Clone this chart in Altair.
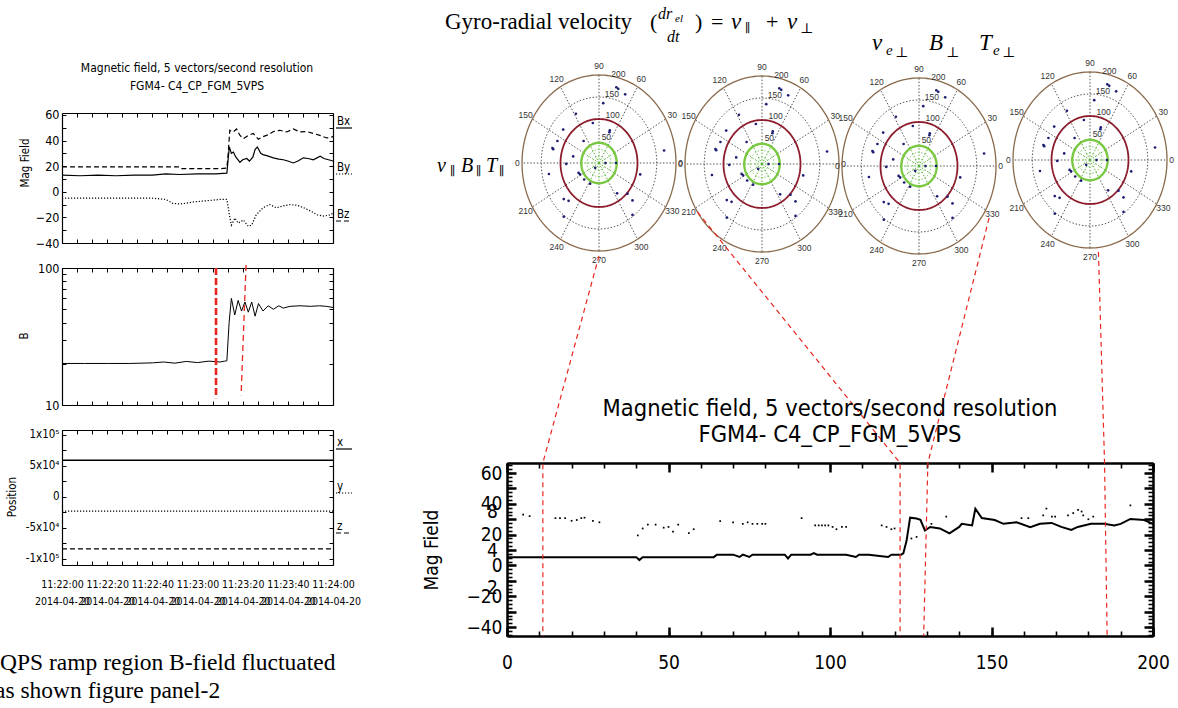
import altair as alt
import numpy as np
import pandas as pd

W, H = 1178, 708
NARROW = "'Liberation Sans Narrow', 'DejaVu Sans Condensed', 'DejaVu Sans', sans-serif"
SERIF = "'Liberation Serif', 'DejaVu Serif', serif"
ARIAL = "'Liberation Sans', Arial, sans-serif"
RED = "#e8261e"

# ---------------- data ----------------
# Left panel 1: field components (nT), seconds after 11:22:00 UT
bx_t = [0, 20, 40, 52, 53, 60, 70, 73, 73.6, 74.3, 75.8, 77.3, 78.8, 80.3, 82.5, 84.7, 87, 89,
        91.3, 93.6, 96.5, 99.5, 102.4, 105.4, 108.4, 111.3, 114.2, 117.2, 120]
bx_v = [19.5, 19.5, 19.5, 19.5, 18, 18, 18, 18.5, 30, 48, 46.7, 49, 44, 41.5, 44, 45.5, 41, 43,
        44.5, 47, 48, 46.7, 49, 46.7, 47, 45.5, 44, 42, 43]
by_t = [0, 8, 16, 24, 32, 40, 46, 52, 60, 68, 73, 73.6, 74.1, 75, 75.9, 77, 78.8, 80, 81.8, 83,
        84.5, 85.5, 86.5, 88, 89, 91, 93.6, 96, 98, 100, 102.4, 104.5, 106.9, 109, 111.3, 114.3,
        116, 118, 120]
by_v = [13, 12.5, 13, 12.5, 13, 13, 14, 13.5, 14, 14, 14.5, 26, 35, 30, 31, 27, 23, 25, 26, 24,
        27, 33, 35, 30, 29, 28, 26.5, 25.5, 25, 24, 22.5, 24, 26.5, 26, 25, 27.7, 26, 25, 24]
bz_t = [0, 20, 40, 46, 49, 52, 55, 58, 64, 70, 73, 73.6, 74.1, 75, 76.6, 78, 80.3, 82.5, 84, 86,
        89, 92, 95, 98, 101, 104, 107, 110, 113, 116, 119, 120]
bz_v = [-5, -5, -5, -6, -9, -9.5, -9, -8, -7, -6, -6, -12, -18, -26, -20.5, -24.5, -22, -27, -26,
        -18, -12.5, -10, -12.5, -11, -10, -10.5, -12.5, -15, -18, -19, -18, -16.5]

# Left panel 2: |B| (nT, log axis)
b_t = [0, 10, 20, 30, 40, 45, 50, 55, 60, 65, 70, 72, 73, 74, 75, 76.5, 78, 79.5, 81, 82.5, 84,
       85.5, 87, 89, 91.3, 93.6, 96, 98, 101, 105.4, 110, 114, 117, 120]
b_v = [20.1, 20.1, 20.1, 20.1, 20.3, 20.6, 20.2, 20.8, 20.4, 20.9, 20.6, 20.9, 21, 40, 60, 45.4,
       58, 48.5, 56.5, 47.6, 56.5, 44.5, 55, 48.5, 53, 50, 53, 51, 52.5, 53, 52.5, 53, 52.5, 51.5]
# markers drawn on panel 2: (time, |B|) end points
mark_thick_t = [68.2, 68.2]
mark_thick_b = [100, 11.2]
mark_thin_t = [81.5, 79.3]
mark_thin_b = [105, 11.8]

# Left panel 3: spacecraft position (km)
pos_t = [0, 120]
pos_x = [59000, 59000]
pos_y = [-23000, -23000]
pos_z = [-84000, -84000]

# Bottom-right panel: field magnitude line and scattered samples (sample index 0-200)
br_t = [0, 20, 40, 41, 42, 50, 60, 64, 65, 70, 72, 73, 75, 76, 80, 86, 87, 88, 94, 95, 96, 105,
        108, 109, 112, 118, 119, 120, 122, 122.7, 123.7, 124.8, 126.8, 128, 129.4, 131, 134, 137,
        140, 140.8, 144, 145, 147, 151, 153.7, 157.8, 162, 165, 168.6, 171.6, 174.7, 176.7,
        180.8, 184.9, 188, 190, 193, 197.3, 200]
br_v = [5.4, 5.4, 5.4, 3.5, 5.4, 5.4, 5.4, 5.4, 7, 7, 5.5, 7, 5.5, 7, 7, 7, 4.5, 7, 7, 8, 7, 7,
        5.5, 7, 7, 5.5, 7, 7, 7, 7.8, 16, 31, 30.5, 29.6, 22.7, 25, 24, 20.8, 25, 27, 26, 36.8,
        30.8, 29.5, 27, 28, 24.9, 27, 27.6, 25, 23, 25, 27, 27, 26, 27, 30.2, 29.5, 27]
dots_t = [5, 7, 15, 16.4, 18, 20, 21.6, 23, 24, 26.6, 28.6, 40.5, 42, 43.6, 46, 48.5, 50, 51.4,
          53, 56.3, 57.8, 66, 70, 73, 74.5, 76, 77.5, 79, 80, 91.2, 95.4, 96.5, 97.5, 98.5, 99.5,
          100.8, 102, 103.7, 105, 116, 117.5, 119, 120, 125.2, 126.8, 131.4, 136, 159.3, 161.4,
          166, 167, 168.7, 169.7, 173.7, 175.3, 176.8, 177.9, 178.4, 180, 181.5, 193]
dots_v = [33, 32, 30.7, 30.7, 30.7, 29, 29.5, 30.7, 31, 29, 28, 19.5, 24, 26.5, 26.5, 24.5, 25,
          22, 26.5, 21, 23.5, 28.8, 28, 27, 28, 27, 27, 27, 27, 30.7, 26, 26, 26, 26, 26, 25,
          23.5, 25, 25, 26, 25, 23.5, 24, 17.5, 18.5, 27, 31.7, 30.7, 30.7, 32.5, 36.9, 31.7,
          31.7, 32.5, 34, 36, 35, 32.5, 30, 31.7, 39]

# Polar diagrams: scattered samples in the (x, y) plane, radial unit 0-200
pol_x = [45, 50, 68, 11, -60, -16, 28, 27, -93, -108, -121, -119, -40, 169, -67, -85, -130, -53,
         -49, -38.5, -23, -91.5, -79, -91.5, 47, 74, 87, 87, 17, -10, 44, 107]
pol_y = [172, 168.5, 156, 136, 112, 91, 74, 70, 76, 50, 34, 31.5, 50, 28.5, 15, -2, -25, -22.5,
         -26, -37.5, -47, -82, -86, -122, -69, -70, -85, -118, 0, -11, 0, -26]

# Links between polar diagrams and bottom panel samples
link_polar = [0, 1, 2, 3]
link_angle = [270, 213, 327, 276]
link_radius = [211, 200, 217, 210]
link_x_top = [11.1, 121.7, 130.3, 185.0]
link_x_bottom = [11.1, 121.7, 129.0, 185.8]

# ---------------- layout ----------------
P1 = dict(l=62, r=333, t=113, b=243)
P2 = dict(l=62, r=333, t=268, b=405)
P3 = dict(l=62, r=333, t=430, b=565)
PB = dict(l=507, r=1153, t=463, b=636)
POLAR_C = [(599, 163), (762, 164), (919, 166), (1090, 160)]
RX, RY = 77, 88

T_DOM = [0, 120]
P1_DOM = [-40, 61.5]
P2_DOM = [10, 100]
P3_DOM = [-110000, 108000]
PB_X = [0, 200]
PB_Y = [-45.8, 66.5]


def lin(domain, r0, r1, kind="linear"):
    return alt.Scale(type=kind, domain=domain, range=[r0, r1], zero=False, nice=False)


CXS = lin([0, W], 0, W)
CYS = lin([0, H], 0, H)
AX = dict(grid=False, title=None, labelOverlap=False, labelFlush=False)


def inv_point(xd, yd):
    return alt.Chart(pd.DataFrame({"x": [xd[0]], "y": [yd[0]]})).mark_point(opacity=0)


def frame(xsc, ysc, xd, yd, p, xv, yv, ts=4, tw=1, dw=1.2):
    """Panel box built from four axes whose ticks point into the plot."""
    base = inv_point(xd, yd)
    kw = dict(labels=False, tickSize=ts, tickWidth=tw, tickColor="black",
              domainColor="black", domainWidth=dw, **AX)
    a = base.encode(
        x=alt.X("x:Q", scale=xsc, axis=alt.Axis(orient="top", offset=-p["b"], values=xv, **kw)),
        y=alt.Y("y:Q", scale=ysc, axis=alt.Axis(orient="right", offset=p["l"] - W, values=yv, **kw)))
    b = base.encode(
        x=alt.X("x:Q", scale=xsc, axis=alt.Axis(orient="bottom", offset=p["t"] - H, values=xv, **kw)),
        y=alt.Y("y:Q", scale=ysc, axis=alt.Axis(orient="left", offset=-p["r"], values=yv, **kw)))
    return [a, b]


def label_axes(xsc, ysc, xd, yd, xaxis=None, yaxis=None):
    return inv_point(xd, yd).encode(x=alt.X("x:Q", scale=xsc, axis=xaxis),
                                    y=alt.Y("y:Q", scale=ysc, axis=yaxis))


def series(t, v, xsc, ysc, dash=None, width=1.2, color="black"):
    kw = dict(color=color, strokeWidth=width)
    if dash:
        kw["strokeDash"] = dash
    return alt.Chart(pd.DataFrame({"t": t, "v": v})).mark_line(**kw).encode(
        x=alt.X("t:Q", scale=xsc, axis=None), y=alt.Y("v:Q", scale=ysc, axis=None))


def text_layer(rows, font, align="left", baseline="alphabetic", style="normal", color="black"):
    df = pd.DataFrame(rows, columns=["text", "x", "y", "size", "angle"])
    return alt.Chart(df).mark_text(font=font, align=align, baseline=baseline,
                                   fontStyle=style, color=color).encode(
        x=alt.X("x:Q", scale=CXS, axis=None), y=alt.Y("y:Q", scale=CYS, axis=None),
        text="text:N", size=alt.Size("size:Q", scale=None), angle=alt.Angle("angle:Q", scale=None))


layers = []

# ---- left panel 1: Mag Field components ----
xs1 = lin(T_DOM, P1["l"], P1["r"])
ys1 = lin(P1_DOM, P1["b"], P1["t"])
layers += [series(bx_t, bx_v, xs1, ys1, dash=[5, 3]),
           series(by_t, by_v, xs1, ys1),
           series(bz_t, bz_v, xs1, ys1, dash=[1.2, 1.8])]
minor_t = [i * 20 / 3 for i in range(19)]
layers += frame(xs1, ys1, T_DOM, P1_DOM, P1, minor_t, list(range(-40, 61, 10)))
layers.append(label_axes(xs1, ys1, T_DOM, P1_DOM, yaxis=alt.Axis(
    orient="left", offset=-P1["l"], values=[-40, -20, 0, 20, 40, 60], ticks=False, domain=False,
    labelFont=NARROW, labelFontSize=12.5, labelPadding=3, labelColor="black", **AX)))

# ---- left panel 2: |B| ----
xs2 = lin(T_DOM, P2["l"], P2["r"])
ys2 = lin(P2_DOM, P2["b"], P2["t"], kind="log")
layers.append(series(b_t, b_v, xs2, ys2, width=1.0))
layers += frame(xs2, ys2, T_DOM, P2_DOM, P2, minor_t, list(range(10, 101, 10)))
layers.append(label_axes(xs2, ys2, T_DOM, P2_DOM, yaxis=alt.Axis(
    orient="left", offset=-P2["l"], values=[10, 100], ticks=False, domain=False,
    labelFont=NARROW, labelFontSize=12.5, labelPadding=3, labelColor="black", **AX)))
for tt, bb, wdt, dsh in [(mark_thick_t, mark_thick_b, 2.6, [7, 3]),
                         (mark_thin_t, mark_thin_b, 1.3, [6, 4])]:
    layers.append(alt.Chart(pd.DataFrame({"t": [tt[0]], "t2": [tt[1]], "b": [bb[0]], "b2": [bb[1]]}))
                  .mark_rule(color=RED, strokeWidth=wdt, strokeDash=dsh).encode(
        x=alt.X("t:Q", scale=xs2, axis=None), x2="t2:Q",
        y=alt.Y("b:Q", scale=ys2, axis=None), y2="b2:Q"))

# ---- left panel 3: Position ----
xs3 = lin(T_DOM, P3["l"], P3["r"])
ys3 = lin(P3_DOM, P3["b"], P3["t"])
layers += [series(pos_t, pos_x, xs3, ys3, width=1.5),
           series(pos_t, pos_y, xs3, ys3, dash=[1.2, 1.8]),
           series(pos_t, pos_z, xs3, ys3, dash=[5, 3])]
layers += frame(xs3, ys3, T_DOM, P3_DOM, P3, minor_t, [i * 25000 for i in range(-4, 5)])
layers.append(label_axes(
    xs3, ys3, T_DOM, P3_DOM,
    xaxis=alt.Axis(orient="bottom", offset=P3["b"] - H, values=list(range(0, 121, 20)),
                   ticks=False, domain=False, labelFont=NARROW, labelFontSize=10.5,
                   labelPadding=14, labelLineHeight=17, labelColor="black",
                   labelExpr="['11:' + (22 + floor(datum.value / 60)) + ':' + "
                             "(datum.value % 60 < 10 ? '0' : '') + (datum.value % 60), '2014-04-20']",
                   **AX),
    yaxis=alt.Axis(orient="left", offset=-P3["l"], values=[-100000, -50000, 0, 50000, 100000],
                   ticks=False, domain=False, labelFont=NARROW, labelFontSize=11.5, labelPadding=3,
                   labelColor="black",
                   labelExpr="datum.value == 0 ? '0' : (datum.value < 0 ? '-' : '') + "
                             "(abs(datum.value) == 100000 ? '1x10⁵' : '5x10⁴')",
                   **AX)))

# ---- bottom-right panel ----
xsb = lin(PB_X, PB["l"], PB["r"])
ysb = lin(PB_Y, PB["b"], PB["t"])
layers.append(series(br_t, br_v, xsb, ysb, width=2.0))
layers.append(alt.Chart(pd.DataFrame({"t": dots_t, "v": dots_v})).mark_square(
    size=3, color="black", opacity=1).encode(
    x=alt.X("t:Q", scale=xsb, axis=None), y=alt.Y("v:Q", scale=ysb, axis=None)))
layers += frame(xsb, ysb, PB_X, PB_Y, PB, list(range(0, 201, 10)),
                [v / 2 for v in range(-90, 131, 5)], ts=5, tw=1.6, dw=2)
layers += frame(xsb, ysb, PB_X, PB_Y, PB, list(range(0, 201, 50)),
                list(range(-40, 61, 10)), ts=9, tw=2.5, dw=2)
layers.append(label_axes(
    xsb, ysb, PB_X, PB_Y,
    xaxis=alt.Axis(orient="bottom", offset=PB["b"] - H, values=[0, 50, 100, 150, 200],
                   ticks=False, domain=False, labelFont=NARROW, labelFontSize=19,
                   labelPadding=17, labelColor="black", **AX),
    yaxis=alt.Axis(orient="left", offset=-PB["l"], values=[-40, -20, 0, 20, 40, 60],
                   ticks=False, domain=False, labelFont=NARROW, labelFontSize=19,
                   labelPadding=5, labelColor="black", **AX)))
layers.append(label_axes(
    xsb, ysb, PB_X, PB_Y,
    yaxis=alt.Axis(orient="left", offset=-PB["l"], values=[35, 10, -14], ticks=False,
                   domain=False, labelFont=NARROW, labelFontSize=19, labelPadding=15,
                   labelAlign="center", labelColor="black",
                   labelExpr="datum.value == 35 ? '8' : datum.value == 10 ? '4' : '2'", **AX)))

# ---- polar diagrams ----
TH = np.linspace(0, 2 * np.pi, 181)
RING_SOLID = [(200, "#8a6a4c", 1.3), (100, "#8c1c2c", 1.8), (46, "#78c840", 2.4)]
RING_DOTTED = [(150, "#555555", 1.0), (31, "#5aae3a", 0.8), (16, "#5aae3a", 0.8)]


def ring_frame(rings):
    rows = []
    for k, (r, c, w) in enumerate(rings):
        for j, t in enumerate(TH):
            rows.append(dict(ring=k, o=j, x=r * np.cos(t), y=r * np.sin(t), c=c, w=w))
    return pd.DataFrame(rows)


def spoke_frame():
    rows = []
    for a in range(0, 360, 30):
        ca, sa = np.cos(np.radians(a)), np.sin(np.radians(a))
        rows.append(dict(x=46 * ca, y=46 * sa, x2=200 * ca, y2=200 * sa, c="#555555"))
        rows.append(dict(x=0, y=0, x2=46 * ca, y2=46 * sa, c="#5aae3a"))
    return pd.DataFrame(rows)


def polar_labels():
    rows = []
    for a in range(0, 360, 30):
        rr = 220 if a % 180 else 212
        txt = "0" if a == 180 else str(a)
        rows.append(dict(text=txt, x=rr * np.cos(np.radians(a)), y=rr * np.sin(np.radians(a))))
    for v, rr, a in [(50, 62, 72), (100, 115, 72), (150, 160, 78), (200, 208, 76)]:
        rows.append(dict(text=str(v), x=rr * np.cos(np.radians(a)), y=rr * np.sin(np.radians(a))))
    return pd.DataFrame(rows)


rings_solid = ring_frame(RING_SOLID)
rings_dotted = ring_frame(RING_DOTTED)
spokes = spoke_frame()
plabels = polar_labels()
pdots = pd.DataFrame({"x": pol_x, "y": pol_y})

for cx, cy in POLAR_C:
    xp = lin([-200, 200], cx - RX, cx + RX)
    yp = lin([-200, 200], cy + RY, cy - RY)
    X = alt.X("x:Q", scale=xp, axis=None)
    Y = alt.Y("y:Q", scale=yp, axis=None)
    layers.append(alt.Chart(spokes).mark_rule(strokeDash=[1.5, 1.8], strokeWidth=1).encode(
        x=X, y=Y, x2="x2:Q", y2="y2:Q", color=alt.Color("c:N", scale=None)))
    layers.append(alt.Chart(rings_dotted).mark_line(strokeDash=[1.5, 1.8]).encode(
        x=X, y=Y, detail="ring:N", order="o:Q", color=alt.Color("c:N", scale=None),
        strokeWidth=alt.StrokeWidth("w:Q", scale=None)))
    layers.append(alt.Chart(rings_solid).mark_line().encode(
        x=X, y=Y, detail="ring:N", order="o:Q", color=alt.Color("c:N", scale=None),
        strokeWidth=alt.StrokeWidth("w:Q", scale=None)))
    layers.append(alt.Chart(pdots).mark_circle(size=7, color="#1c1c72", opacity=1).encode(x=X, y=Y))
    layers.append(alt.Chart(plabels).mark_text(font=ARIAL, fontSize=8.5, color="#333333").encode(
        x=X, y=Y, text="text:N"))


# ---- links from polar diagrams down to the bottom panel ----
def polar_px(i, ang, r):
    cx, cy = POLAR_C[i]
    return (cx + r / 200 * RX * np.cos(np.radians(ang)),
            cy - r / 200 * RY * np.sin(np.radians(ang)))


def bottom_px(v):
    return PB["l"] + (v - PB_X[0]) / (PB_X[1] - PB_X[0]) * (PB["r"] - PB["l"])


link_rows = []
for k in range(len(link_polar)):
    px, py = polar_px(link_polar[k], link_angle[k], link_radius[k])
    link_rows += [dict(k=k, o=0, x=px, y=py),
                  dict(k=k, o=1, x=bottom_px(link_x_top[k]), y=PB["t"]),
                  dict(k=k, o=2, x=bottom_px(link_x_bottom[k]), y=PB["b"])]
layers.append(alt.Chart(pd.DataFrame(link_rows)).mark_line(
    color=RED, strokeWidth=1.2, strokeDash=[5, 4]).encode(
    x=alt.X("x:Q", scale=CXS, axis=None), y=alt.Y("y:Q", scale=CYS, axis=None),
    detail="k:N", order="o:Q"))

# ---- legend strokes beside the left panels ----
leg = [(128, None), (174, [1.2, 1.8]), (221, [5, 3]), (449, None), (493, [1.2, 1.8]), (533, [5, 3])]
for yy, dsh in leg:
    kw = dict(color="black", strokeWidth=1.2)
    if dsh:
        kw["strokeDash"] = dsh
    layers.append(alt.Chart(pd.DataFrame({"x": [336], "x2": [352], "y": [yy]})).mark_rule(**kw).encode(
        x=alt.X("x:Q", scale=CXS, axis=None), x2="x2:Q", y=alt.Y("y:Q", scale=CYS, axis=None)))

# ---- text ----
layers.append(text_layer([
    ("Magnetic field, 5 vectors/second resolution", 197, 68, 12, 0),
    ("FGM4- C4_CP_FGM_5VPS", 197, 86, 12, 0),
    ("Magnetic field, 5 vectors/second resolution", 830, 409, 23.5, 0),
    ("FGM4- C4_CP_FGM_5VPS", 830, 435, 23.5, 0),
], NARROW, align="center", baseline="middle"))
layers.append(text_layer([
    ("Mag Field", 26, 163, 11.5, 270),
    ("B", 25, 336, 11.5, 270),
    ("Position", 13, 497, 11.5, 270),
    ("Mag  Field", 432, 550, 19, 270),
], NARROW, align="center", baseline="middle"))
layers.append(text_layer([
    ("Bx", 337, 122, 11.5, 0), ("By", 337, 168, 11.5, 0), ("Bz", 337, 215, 11.5, 0),
    ("x", 337, 443, 11.5, 0), ("y", 337, 487, 11.5, 0), ("z", 337, 527, 11.5, 0),
], NARROW, align="left", baseline="middle"))
layers.append(text_layer([
    ("Gyro-radial velocity", 445, 29, 23, 0), ("(", 650, 29, 22, 0), (")", 695, 29, 22, 0),
    ("=", 711, 29, 22, 0), ("∥", 745, 32, 12, 0), ("+", 766, 29, 22, 0), ("⊥", 800, 33, 14, 0),
    ("⊥", 895, 57, 14, 0), ("⊥", 946, 57, 14, 0), ("⊥", 1002, 57, 14, 0),
    ("∥", 450, 175, 12, 0), ("∥", 476, 175, 12, 0), ("∥", 499, 175, 12, 0),
    ("QPS ramp region B-field fluctuated", 0, 670, 23.5, 0),
    ("as shown figure panel-2", -5, 698, 23.5, 0),
], SERIF))
layers.append(text_layer([
    ("dr", 658, 19, 16, 0), ("el", 675, 22, 11, 0), ("dt", 667, 42, 16, 0),
    ("v", 731, 29, 23, 0), ("v", 787, 29, 23, 0),
    ("v", 872, 50, 23, 0), ("e", 886, 55, 15, 0), ("B", 929, 50, 23, 0),
    ("T", 979, 50, 23, 0), ("e", 993, 55, 15, 0),
    ("v", 437, 172, 20, 0), ("B", 461, 172, 20, 0), ("T", 486, 172, 20, 0),
], SERIF, style="italic"))

chart = alt.layer(*layers).resolve_scale(x="independent", y="independent").properties(
    width=W, height=H, padding=0, autosize=alt.AutoSizeParams(type="none"), background="white"
).configure_view(stroke=None)

chart.save("out.html", embed_options={"renderer": "svg", "actions": False})
